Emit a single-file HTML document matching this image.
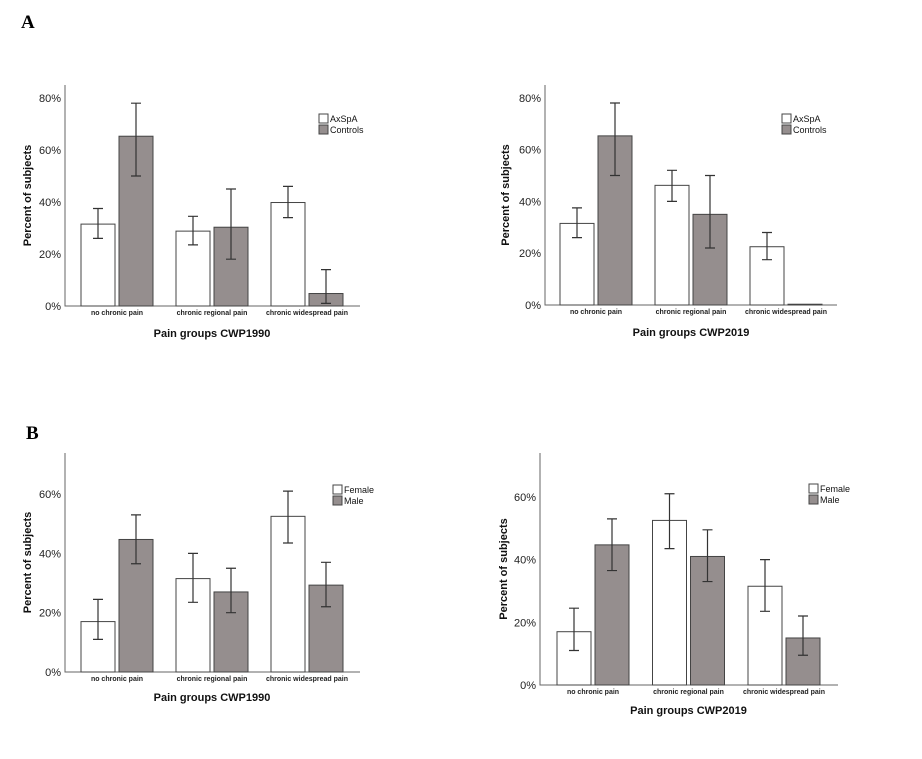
<!DOCTYPE html>
<html><head><meta charset="utf-8">
<style>
body{margin:0;background:#fff;}
svg{display:block;font-family:"Liberation Sans",Arial,sans-serif;}
.tick{font-size:11px;fill:#222;}
.cat{font-size:7px;font-weight:bold;fill:#222;}
.ttl{font-size:11px;font-weight:bold;fill:#111;}
.leg{font-size:9px;fill:#111;}
.pl{font-family:"Liberation Serif",serif;font-size:19px;font-weight:bold;fill:#000;}
</style></head>
<body>
<svg id="fig" width="922" height="759" viewBox="0 0 922 759">
<text class="pl" x="21" y="28">A</text>
<text class="pl" x="26" y="439">B</text>
</svg>
<script>
const categories = ["no chronic pain","chronic regional pain","chronic widespread pain"];
const yTicks = [0,20,40,60,80];
const yTicksB = [0,20,40,60];
// Panel A1 CWP1990
const a1Axspa = [31.5,28.8,39.8];
const a1AxspaLo = [26,23.5,34];
const a1AxspaHi = [37.5,34.5,46];
const a1Controls = [65.3,30.3,4.8];
const a1ControlsLo = [50,18,1];
const a1ControlsHi = [78,45,14];
// Panel A2 CWP2019
const a2Axspa = [31.5,46.2,22.5];
const a2AxspaLo = [26,40,17.5];
const a2AxspaHi = [37.5,52,28];
const a2Controls = [65.3,35,0.3];
const a2ControlsLo = [50,22,0];
const a2ControlsHi = [78,50,0];
// Panel B1 CWP1990
const b1Female = [17,31.5,52.5];
const b1FemaleLo = [11,23.5,43.5];
const b1FemaleHi = [24.5,40,61];
const b1Male = [44.7,27,29.3];
const b1MaleLo = [36.5,20,22];
const b1MaleHi = [53,35,37];
// Panel B2 CWP2019
const b2Female = [17,52.5,31.5];
const b2FemaleLo = [11,43.5,23.5];
const b2FemaleHi = [24.5,61,40];
const b2Male = [44.7,41,15];
const b2MaleLo = [36.5,33,9.5];
const b2MaleHi = [53,49.5,22];

const NS="http://www.w3.org/2000/svg";
const fig=document.getElementById('fig');
function mk(tag,attrs,parent){const e=document.createElementNS(NS,tag);for(const k in attrs)e.setAttribute(k,attrs[k]);(parent||fig).appendChild(e);return e;}

function panel(p){
  const g=mk('g',{});
  
  
  const y=v=>p.y0-(v/20)*p.step;
  const bx=(i,s)=>p.x1+i*p.gap+s*38;
  const bw=34;
  // axes
  const ax=mk('path',{d:`M${p.left} ${p.top}V${p.y0}H${p.right}`,stroke:'#666',fill:'none','stroke-width':1},g);
  
  
  p.ticks.forEach(t=>{
    const tx=mk('text',{class:'tick',x:p.left-4,y:y(t)+4,'text-anchor':'end'},g);
    tx.textContent=t+'%';
    
    
  });
  const series=[[p.s1,p.s1Lo,p.s1Hi,'#fff'],[p.s2,p.s2Lo,p.s2Hi,'#958e8e']];
  categories.forEach((c,i)=>{
    series.forEach((s,si)=>{
      const v=s[0][i],x=bx(i,si);
      const r=mk('rect',{x:x,y:y(v),width:bw,height:p.y0-y(v),fill:s[3],stroke:'#444','stroke-width':1},g);
      
      
      const cx=x+bw/2,lo=y(s[1][i]),hi=y(s[2][i]);
      if(s[2][i]>s[1][i]){
        const e=mk('path',{d:`M${cx} ${lo}V${hi}M${cx-5} ${lo}H${cx+5}M${cx-5} ${hi}H${cx+5}`,stroke:'#333',fill:'none','stroke-width':1.2},g);
        
        
      }
    });
    const ct=mk('text',{class:'cat',x:bx(i,0)+36,y:p.y0+9,'text-anchor':'middle'},g);
    ct.textContent=c;
    
    
  });
  const xt=mk('text',{class:'ttl',x:p.x1+36+p.gap,y:p.xt,'text-anchor':'middle'},g);
  xt.textContent=p.xtitle;
  
  
  const yt=mk('text',{class:'ttl',x:0,y:0,'text-anchor':'middle',transform:`translate(${p.yx},${(p.top+p.y0)/2}) rotate(-90)`},g);
  yt.textContent='Percent of subjects';
  
  
  [[p.l1,'#fff'],[p.l2,'#958e8e']].forEach((l,k)=>{
    const r=mk('rect',{x:p.lx,y:p.ly+k*11,width:9,height:9,fill:l[1],stroke:'#444'},g);
    
    
    const t=mk('text',{class:'leg',x:p.lx+11,y:p.ly+k*11+8},g);
    t.textContent=l[0];
    
    
  });
}
panel({name:'chart-a-cwp1990',left:65,right:360,top:85,y0:306,step:52,x1:81,gap:95,ticks:yTicks,
  s1:a1Axspa,s1Lo:a1AxspaLo,s1Hi:a1AxspaHi,s2:a1Controls,s2Lo:a1ControlsLo,s2Hi:a1ControlsHi,
  xtitle:'Pain groups CWP1990',xt:337,yx:31,lx:319,ly:114,l1:'AxSpA',l2:'Controls'});
panel({name:'chart-a-cwp2019',left:545,right:837,top:85,y0:305,step:51.8,x1:560,gap:95,ticks:yTicks,
  s1:a2Axspa,s1Lo:a2AxspaLo,s1Hi:a2AxspaHi,s2:a2Controls,s2Lo:a2ControlsLo,s2Hi:a2ControlsHi,
  xtitle:'Pain groups CWP2019',xt:336,yx:509,lx:782,ly:114,l1:'AxSpA',l2:'Controls'});
panel({name:'chart-b-cwp1990',left:65,right:360,top:453,y0:672,step:59.3,x1:81,gap:95,ticks:yTicksB,
  s1:b1Female,s1Lo:b1FemaleLo,s1Hi:b1FemaleHi,s2:b1Male,s2Lo:b1MaleLo,s2Hi:b1MaleHi,
  xtitle:'Pain groups CWP1990',xt:701,yx:31,lx:333,ly:485,l1:'Female',l2:'Male'});
panel({name:'chart-b-cwp2019',left:540,right:838,top:453,y0:685,step:62.7,x1:557,gap:95.5,ticks:yTicksB,
  s1:b2Female,s1Lo:b2FemaleLo,s1Hi:b2FemaleHi,s2:b2Male,s2Lo:b2MaleLo,s2Hi:b2MaleHi,
  xtitle:'Pain groups CWP2019',xt:714,yx:507,lx:809,ly:484,l1:'Female',l2:'Male'});
</script>
</body></html>
